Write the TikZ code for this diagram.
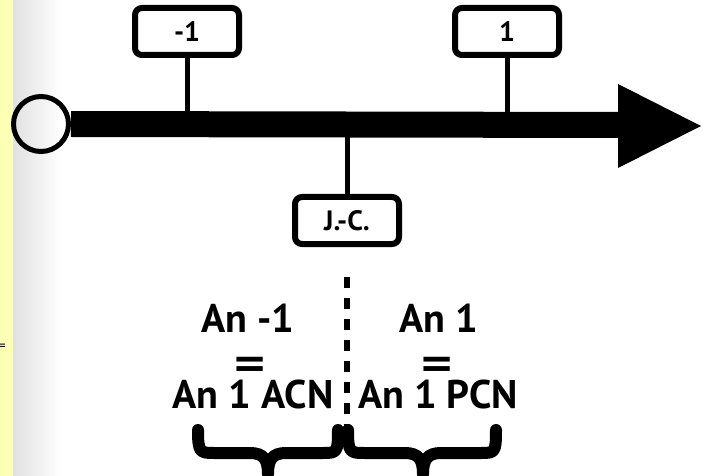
\documentclass[tikz,border=0pt]{standalone}
\usepackage{fontspec}
\usepackage{graphicx}
\setmainfont{PT Sans}
\newfontfamily\eqfont{DejaVu Sans}
\usetikzlibrary{calc}
\definecolor{stripyellow}{HTML}{FDFFB4}
\tikzset{
  tickbox/.style={draw=black, line width=6pt, rounded corners=7pt, fill=white,
    minimum width=104pt, minimum height=47pt, inner sep=0pt,
    font=\fontsize{28}{30}\selectfont\bfseries},
  stem/.style={line width=5pt},
  bigtext/.style={font=\fontsize{40}{42}\selectfont\bfseries, inner sep=0pt, anchor=base},
  eqtext/.style={font=\eqfont\bfseries\fontsize{30}{32}\selectfont, inner sep=0pt, anchor=base},
  bracepath/.style={line width=12pt, line cap=round, line join=round},
}
\begin{document}
\begin{tikzpicture}[x=1pt,y=-1pt]
\useasboundingbox (0,0) rectangle (710,476);
\clip (0,0) rectangle (710,476);
\fill[white] (0,0) rectangle (710,476);
% shadow of the strip
\shade[left color=black!12, right color=white] (12,0) rectangle (62,476);
% yellow strip
\fill[stripyellow] (0,0) rectangle (13,476);
\node[font=\fontsize{14}{16}\selectfont, anchor=east, inner sep=0pt] (eqcut) at (6,347) {=};
% main axis
\node[circle, draw=black, line width=5pt, minimum size=55pt, inner sep=0pt] (origin) at (41,124) {};
\coordinate (barend) at (620,125);
\draw[line width=26pt] (origin.east) -- (barend);
\fill[black] (618,84) -- (701,126) -- (618,168) -- cycle;
\coordinate (arrowtip) at (701,126);
% tick boxes
\node[tickbox] (m1) at (187,31.5) {-1};
\node[tickbox] (p1) at (507,31.5) {1};
\node[tickbox] (jc) at (347,220.5) {J.-C.};
\coordinate (m1axis) at (187,120);
\coordinate (p1axis) at (507,120);
\coordinate (jcaxis) at (347,130);
\draw[stem] (m1.south) -- (m1axis);
\draw[stem] (p1.south) -- (p1axis);
\draw[stem] (jc.north) -- (jcaxis);
% dashed divider
\coordinate (dtop) at (347,277);
\coordinate (dbot) at (347,432);
\draw[line width=6pt, dash pattern=on 11pt off 10pt] (dtop) -- (dbot);
% texts
\node[bigtext] (anm1) at (248,332) {An -1};
\node[eqtext] (eql) at (250,377) {\scalebox{1.4}{=}};
\node[bigtext] (acn) at (253,408) {An 1 ACN};
\node[bigtext] (an1) at (439,332) {An 1};
\node[eqtext] (eqr) at (437,377) {\scalebox{1.4}{=}};
\node[bigtext] (pcn) at (438,408) {An 1 PCN};
% braces
\draw[bracepath] (198,430) .. controls (198,453) and (200,453) .. (215,453)
  -- (250,453) .. controls (264,453) and (268,460) .. (268,474)
  .. controls (268,460) and (272,453) .. (286,453)
  -- (322,453) .. controls (337,453) and (338,453) .. (338,430);
\draw[bracepath] (348,430) .. controls (348,453) and (350,453) .. (365,453)
  -- (405,453) .. controls (419,453) and (423,460) .. (423,474)
  .. controls (423,460) and (427,453) .. (441,453)
  -- (480,453) .. controls (495,453) and (496,453) .. (496,430);
\end{tikzpicture}
\end{document}
